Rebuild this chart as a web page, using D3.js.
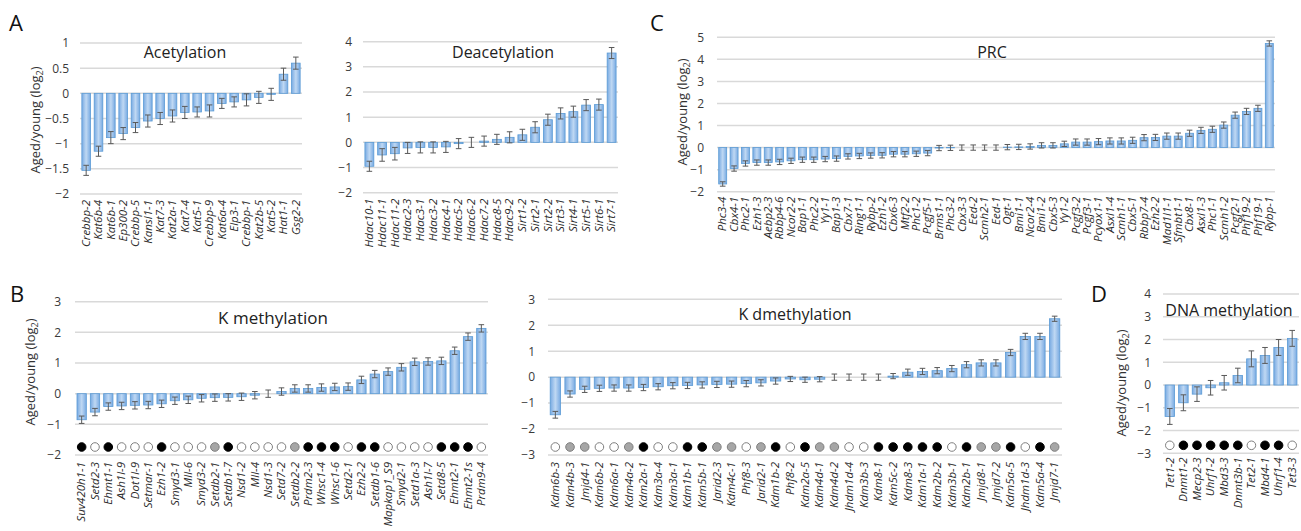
<!DOCTYPE html>
<html><head><meta charset="utf-8">
<script src="https://cdn.jsdelivr.net/npm/d3@7/dist/d3.min.js"></script>
<style>
body{margin:0;background:#fff;}
svg{display:block;font-family:"Open Sans",sans-serif;}
</style></head><body>
<svg id="c" width="1301" height="531"></svg>
<script>
// ---------- DATA ----------
const acetCats = ["Crebbp-2","Kat6b-4","Kat6b-1","Ep300-2","Crebbp-5","Kansl1-1","Kat7-3","Kat2a-1","Kat7-4","Kat5-1","Crebbp-9","Kat6a-4","Elp3-1","Crebbp-1","Kat2b-5","Kat5-2","Hat1-1","Gsg2-2"];
const acetVals = [-1.53,-1.15,-0.88,-0.8,-0.68,-0.55,-0.5,-0.45,-0.38,-0.37,-0.35,-0.2,-0.17,-0.13,-0.08,-0.02,0.38,0.6];
const acetErr  = [0.1,0.1,0.12,0.12,0.1,0.12,0.12,0.12,0.12,0.1,0.12,0.1,0.1,0.12,0.12,0.12,0.12,0.12];
const acetTicks = [-2,-1.5,-1,-0.5,0,0.5,1];

const deacCats = ["Hdac10-1","Hdac11-1","Hdac11-2","Hdac2-3","Hdac3-1","Hdac3-2","Hdac4-1","Hdac5-2","Hdac6-2","Hdac7-2","Hdac8-5","Hdac9-2","Sirt1-2","Sirt2-1","Sirt2-2","Sirt3-1","Sirt4-1","Sirt5-1","Sirt6-1","Sirt7-1"];
const deacVals = [-0.95,-0.5,-0.45,-0.22,-0.2,-0.2,-0.18,-0.05,0.0,0.05,0.12,0.2,0.3,0.6,0.9,1.15,1.22,1.48,1.5,3.55];
const deacErr  = [0.2,0.25,0.25,0.22,0.22,0.22,0.22,0.2,0.2,0.2,0.2,0.22,0.22,0.22,0.22,0.22,0.22,0.22,0.22,0.22];
const deacTicks = [-2,-1,0,1,2,3,4];

const prcCats = ["Phc3-4","Cbx4-1","Phc2-1","Ezh1-3","Aebp2-3","Rbbp4-6","Ncor2-2","Bap1-1","Phc2-2","Yy1-1","Bap1-3","Cbx7-1","Ring1-1","Rybp-2","Ezh1-2","Cbx6-3","Mtf2-2","Phc1-2","Pcgf5-1","Brms1-1","Phc3-2","Cbx3-3","Eed-2","Scmh2-1","Eed-1","Ogt-1","Bmi1-1","Ncor2-4","Bmi1-2","Cbx5-3","Yy1-2","Pcgf3-2","Pcgf3-1","Pcyox1-1","Asxl1-4","Scmh1-1","Cbx5-1","Rbbp7-4","Ezh2-2","Mad1l1-1","Sfmbt1-1","Cbx8-1","Asxl1-3","Phc1-1","Scmh1-2","Pcgf2-1","Phf19-2","Phf19-1","Rybp-1"];
const prcVals = [-1.65,-0.95,-0.72,-0.68,-0.68,-0.65,-0.6,-0.55,-0.55,-0.52,-0.5,-0.4,-0.38,-0.36,-0.35,-0.3,-0.3,-0.28,-0.25,-0.02,-0.01,0.0,0.0,0.0,0.0,0.02,0.03,0.05,0.1,0.1,0.17,0.25,0.25,0.27,0.3,0.3,0.33,0.45,0.46,0.52,0.52,0.65,0.78,0.83,1.02,1.47,1.64,1.78,4.72];
const prcErr = [0.1,0.12,0.12,0.12,0.12,0.12,0.12,0.12,0.12,0.12,0.12,0.12,0.12,0.12,0.12,0.12,0.12,0.12,0.12,0.12,0.12,0.12,0.12,0.12,0.12,0.12,0.12,0.12,0.12,0.12,0.12,0.14,0.14,0.14,0.14,0.14,0.14,0.14,0.14,0.14,0.14,0.14,0.14,0.14,0.14,0.14,0.14,0.14,0.12];
const prcTicks = [-2,-1,0,1,2,3,4,5];

const kmCats = ["Suv420h1-1","Setd2-3","Ehmt1-1","Ash1l-9","Dot1l-9","Setmar-1","Ezh1-2","Smyd3-1","Mll-6","Smyd3-2","Setdb2-1","Setdb1-7","Nsd1-2","Mll-4","Nsd1-3","Setd7-2","Setdb2-2","Prdm2-3","Whsc1-4","Whsc1-6","Setd2-1","Ezh2-2","Setdb1-6","Mapkap1_S9","Smyd2-1","Setd1a-3","Ash1l-7","Setd8-5","Ehmt2-1","Ehmt2-1s","Prdm9-4"];
const kmVals = [-0.85,-0.6,-0.42,-0.4,-0.38,-0.37,-0.33,-0.23,-0.2,-0.15,-0.13,-0.12,-0.1,-0.05,0.0,0.07,0.17,0.17,0.2,0.22,0.23,0.45,0.64,0.72,0.86,1.04,1.05,1.07,1.4,1.86,2.13];
const kmErr = [0.12,0.12,0.12,0.12,0.12,0.12,0.12,0.12,0.12,0.12,0.12,0.12,0.12,0.12,0.12,0.12,0.12,0.12,0.12,0.12,0.12,0.12,0.12,0.12,0.12,0.12,0.12,0.12,0.12,0.12,0.12];
const kmMarks = ["black","white","black","white","white","white","black","white","white","white","gray","black","white","white","white","white","gray","black","black","black","white","black","black","white","white","white","white","black","black","black","white"];
const kmTicks = [-2,-1,0,1,2,3];

const kdCats = ["Kdm6b-3","Kdm4b-3","Jmjd4-1","Kdm6b-2","Kdm6a-1","Kdm4a-2","Kdm2a-1","Kdm3a-4","Kdm3a-1","Kdm1b-1","Kdm5b-1","Jarid2-3","Kdm4c-1","Phf8-3","Jarid2-1","Kdm1b-2","Phf8-2","Kdm2a-5","Kdm4d-1","Kdm4d-2","Jhdm1d-4","Kdm3b-3","Kdm8-1","Kdm5c-2","Kdm8-3","Kdm1a-1","Kdm2b-2","Kdm3b-1","Kdm2b-1","Jmjd8-1","Jmjd7-2","Kdm5a-5","Jhdm1d-3","Kdm5a-4","Jmjd7-1"];
const kdVals = [-1.45,-0.65,-0.47,-0.43,-0.42,-0.42,-0.4,-0.37,-0.33,-0.32,-0.3,-0.28,-0.27,-0.25,-0.22,-0.15,-0.07,-0.1,-0.08,0.0,0.0,0.0,0.0,0.04,0.19,0.22,0.25,0.33,0.48,0.55,0.55,0.95,1.57,1.57,2.25];
const kdErr = [0.13,0.12,0.12,0.12,0.12,0.12,0.12,0.12,0.12,0.12,0.12,0.12,0.12,0.12,0.12,0.12,0.1,0.1,0.1,0.12,0.12,0.12,0.12,0.1,0.12,0.12,0.12,0.12,0.12,0.12,0.12,0.12,0.12,0.12,0.1];
const kdMarks = ["white","gray","gray","white","white","gray","black","white","white","black","black","gray","gray","white","gray","black","white","black","gray","gray","white","white","black","black","black","black","black","white","black","gray","gray","black","white","black","gray"];
const kdTicks = [-3,-2,-1,0,1,2,3];

const dnaCats = ["Tet1-2","Dnmt1-2","Mecp2-3","Uhrf1-2","Mbd3-3","Dnmt3b-1","Tet2-1","Mbd4-1","Uhrf1-4","Tet3-3"];
const dnaVals = [-1.38,-0.78,-0.4,-0.12,0.1,0.42,1.15,1.3,1.65,2.05];
const dnaErr  = [0.35,0.35,0.32,0.32,0.32,0.32,0.35,0.35,0.35,0.35];
const dnaMarks = ["white","black","black","black","black","black","white","black","black","white"];
const dnaTicks = [-3,-2,-1,0,1,2,3,4];

// ---------- DRAW ----------
const svg = d3.select("#c");
const defs = svg.append("defs");
const grad = defs.append("linearGradient").attr("id","bargrad").attr("x1","0").attr("x2","1").attr("y1","0").attr("y2","0");
grad.append("stop").attr("offset","0%").attr("stop-color","#78aae2");
grad.append("stop").attr("offset","50%").attr("stop-color","#bfd8f3");
grad.append("stop").attr("offset","100%").attr("stop-color","#78aae2");

const markFill = {white:"#ffffff", gray:"#a6a6a6", black:"#000000"};

function panel(p){
  const g = svg.append("g");
  const y = d3.scaleLinear().domain([p.ticks[0], p.ticks[p.ticks.length-1]]).range([p.yBot, p.yTop]);
  const x = d3.scaleBand().domain(p.cats).range([p.x0, p.x1]).paddingInner(0.3).paddingOuter(0.15);

  g.append("g").selectAll("line").data(p.ticks).join("line")
    .attr("x1", p.x0).attr("x2", p.x1)
    .attr("y1", d=>y(d)).attr("y2", d=>y(d))
    .attr("stroke","#d9d9d9").attr("stroke-width",1.5);

  const ax = g.append("g").attr("transform",`translate(${p.tickX},0)`)
    .call(d3.axisLeft(y).tickValues(p.ticks).tickSize(0).tickPadding(0).tickFormat(d3.format("")));
  ax.select(".domain").remove();
  ax.selectAll("text").attr("font-size",12).attr("fill","#3a3a3a").attr("font-family","'Open Sans',sans-serif");

  g.append("g").selectAll("rect").data(p.cats).join("rect")
    .attr("x", d=>x(d)).attr("width", x.bandwidth())
    .attr("y", (d,i)=>Math.min(y(p.vals[i]), y(0)))
    .attr("height",(d,i)=>Math.abs(y(p.vals[i])-y(0)))
    .attr("fill","url(#bargrad)").attr("stroke","#5b9bd5").attr("stroke-width",0.8);

  const eb = g.append("g").attr("stroke","#595959").attr("stroke-width",1);
  p.cats.forEach((c,i)=>{
    const cx = x(c)+x.bandwidth()/2;
    const lo = y(p.vals[i]-p.err[i]), hi = y(p.vals[i]+p.err[i]);
    eb.append("line").attr("x1",cx).attr("x2",cx).attr("y1",lo).attr("y2",hi);
    eb.append("line").attr("x1",cx-2.8).attr("x2",cx+2.8).attr("y1",lo).attr("y2",lo);
    eb.append("line").attr("x1",cx-2.8).attr("x2",cx+2.8).attr("y1",hi).attr("y2",hi);
  });

  if(p.marks){
    g.append("g").selectAll("circle").data(p.cats).join("circle")
      .attr("cx", d=>x(d)+x.bandwidth()/2)
      .attr("cy", y(p.ticks[0]) - 8)
      .attr("r", 4.3)
      .attr("fill",(d,i)=>markFill[p.marks[i]])
      .attr("stroke",(d,i)=>p.marks[i]==="black"?"#000":"#7f7f7f").attr("stroke-width",1);
  }

  g.append("g").selectAll("text").data(p.cats).join("text")
    .attr("transform", d=>`translate(${x(d)+x.bandwidth()/2+3.8},${p.yBot+p.labGap}) rotate(-90)`)
    .attr("text-anchor","end")
    .attr("font-size",11.5).attr("font-style","italic").attr("fill","#2a2a2a")
    .text(d=>d);

  g.append("text").attr("x",p.titleX).attr("y",p.titleY).attr("text-anchor","middle")
    .attr("font-size",p.titleSize||16).attr("fill","#222").text(p.title);

  if(p.yTitle){
    const t = g.append("text").attr("transform",`translate(${p.yTitle[0]},${p.yTitle[1]}) rotate(-90)`)
      .attr("text-anchor","middle").attr("font-size",13).attr("fill","#333");
    t.append("tspan").text("Aged/young (log");
    t.append("tspan").attr("font-size",9).attr("dy",3).text("2");
    t.append("tspan").attr("dy",-3).text(")");
  }
  if(p.letter){
    g.append("text").attr("x",p.letter[0]).attr("y",p.letter[1]).attr("font-size",22).attr("fill","#111").text(p.letter[2]);
  }
}

panel({cats:acetCats, vals:acetVals, err:acetErr, ticks:acetTicks, x0:80, x1:302, yTop:43, yBot:194,
  tickX:69, labGap:6, title:"Acetylation", titleX:185, titleY:58, yTitle:[40,120], letter:[9,31,"A"]});
panel({cats:deacCats, vals:deacVals, err:deacErr, ticks:deacTicks, x0:363, x1:618, yTop:41.7, yBot:192.7,
  tickX:352, labGap:6, title:"Deacetylation", titleX:503, titleY:58});
panel({cats:prcCats, vals:prcVals, err:prcErr, ticks:prcTicks, x0:717, x1:1275, yTop:37.3, yBot:191.7,
  tickX:704, labGap:5, title:"PRC", titleX:992, titleY:58, yTitle:[687,112], letter:[650,31,"C"]});
panel({cats:kmCats, vals:kmVals, err:kmErr, marks:kmMarks, ticks:kmTicks, x0:75, x1:488, yTop:301.7, yBot:455,
  tickX:61, labGap:7, title:"K methylation", titleSize:17, titleX:273, titleY:324, yTitle:[35,372], letter:[10,302,"B"]});
panel({cats:kdCats, vals:kdVals, err:kdErr, marks:kdMarks, ticks:kdTicks, x0:548, x1:1062, yTop:299.3, yBot:455,
  tickX:535, labGap:7, title:"K dmethylation", titleX:795, titleY:320});
panel({cats:dnaCats, vals:dnaVals, err:dnaErr, marks:dnaMarks, ticks:dnaTicks, x0:1163, x1:1299, yTop:294, yBot:453.3,
  tickX:1151, labGap:4, title:"DNA methylation", titleX:1229, titleY:316, yTitle:[1126,383], letter:[1091,302,"D"]});
</script>
</body></html>
